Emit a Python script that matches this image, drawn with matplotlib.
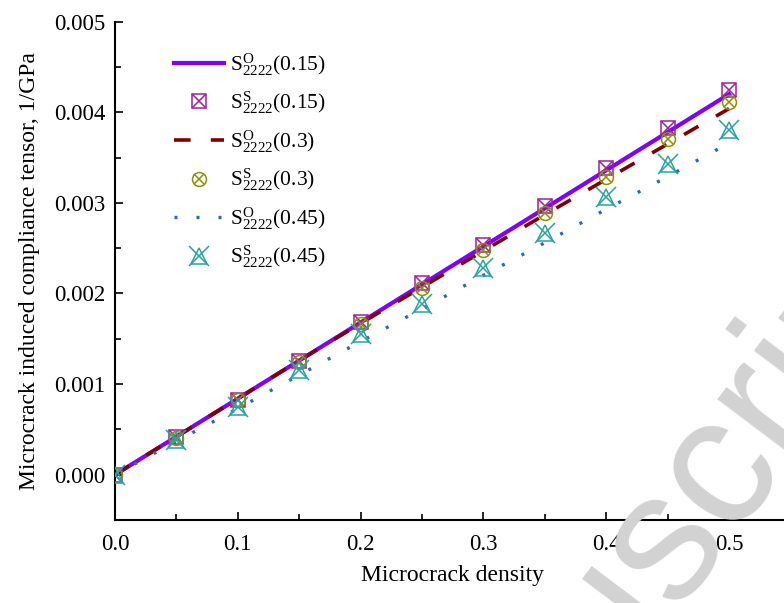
import numpy as np
import matplotlib
matplotlib.use("Agg")
import matplotlib.pyplot as plt
from matplotlib.ticker import MultipleLocator, FormatStrFormatter

plt.rcParams['font.family'] = ['Liberation Serif', 'DejaVu Serif']
plt.rcParams['mathtext.fontset'] = 'custom'
plt.rcParams['mathtext.rm'] = 'Liberation Serif'
plt.rcParams['mathtext.it'] = 'Liberation Serif:italic'

density = [0.0, 0.05, 0.10, 0.15, 0.20, 0.25, 0.30, 0.35, 0.40, 0.45, 0.50]

o_015 = [0.0, 0.00042, 0.00084, 0.00126, 0.00168, 0.00210, 0.00252, 0.00294, 0.00336, 0.00378, 0.00420]
s_015 = [0.0, 0.00042, 0.00083, 0.00126, 0.00169, 0.00212, 0.00254, 0.00297, 0.00339, 0.00383, 0.00425]
o_03 = [0.0, 0.00042, 0.00084, 0.00126, 0.00167, 0.00207, 0.00247, 0.00287, 0.00326, 0.00365, 0.00404]
s_03 = [0.0, 0.00041, 0.00082, 0.00124, 0.00166, 0.00206, 0.00248, 0.00289, 0.00329, 0.00371, 0.00411]
o_045 = [0.0, 0.00037, 0.00073, 0.00110, 0.00147, 0.00183, 0.00220, 0.00256, 0.00293, 0.00329, 0.00366]
s_045 = [0.0, 0.00038, 0.00075, 0.00116, 0.00155, 0.00188, 0.00228, 0.00267, 0.00306, 0.00343, 0.00380]

labels = [r'$\mathregular{S^{O}_{2222}}$(0.15)', r'$\mathregular{S^{S}_{2222}}$(0.15)',
          r'$\mathregular{S^{O}_{2222}}$(0.3)', r'$\mathregular{S^{S}_{2222}}$(0.3)',
          r'$\mathregular{S^{O}_{2222}}$(0.45)', r'$\mathregular{S^{S}_{2222}}$(0.45)']

c_line1 = '#8000ff'
c_sq = '#a0209f'
c_line2 = '#800000'
c_circ = '#8f8f00'
c_line3 = '#2f68b0'
c_tri = '#2aa3a3'

fig = plt.figure(figsize=(7.84, 6.03), dpi=100)
ax = fig.add_axes([115/784, 83/603, (0.55*1228)/784, (520-21.7)/603])

# watermark
fig.text(0.80, 0.035, 'Manuscript', fontsize=132, color='#d2d2d2', rotation=53,
         ha='center', va='center', zorder=0, family='Liberation Sans')

l1, = ax.plot(density, o_015, '-', color=c_line1, lw=3.0, zorder=3)
l2, = ax.plot(density, o_03, color=c_line2, lw=2.6, ls=(0, (4.6, 5.6)), zorder=3)
l3, = ax.plot(density, o_045, color=c_line3, lw=2.4, ls=(0, (0.9, 5.7)), zorder=3)

ms = 10
m1a, = ax.plot(density, s_015, ls='none', marker='s', ms=ms, mfc='none', mec=c_sq, mew=1.1, zorder=4)
m1b, = ax.plot(density, s_015, ls='none', marker='x', ms=ms, mec=c_sq, mew=1.1, zorder=4)
m2a, = ax.plot(density, s_03, ls='none', marker='o', ms=ms, mfc='none', mec=c_circ, mew=1.1, zorder=4)
m2b, = ax.plot(density, s_03, ls='none', marker='x', ms=ms*0.75, mec=c_circ, mew=1.1, zorder=4)
m3a, = ax.plot(density, s_045, ls='none', marker='^', ms=12, mfc='none', mec=c_tri, mew=1.1, zorder=4)
m3b, = ax.plot(density, s_045, ls='none', marker='x', ms=14, mec=c_tri, mew=1.1, zorder=4)

ax.set_xlim(0, 0.55)
ax.set_ylim(-0.0005, 0.005)
ax.xaxis.set_major_locator(MultipleLocator(0.1))
ax.xaxis.set_minor_locator(MultipleLocator(0.05))
ax.yaxis.set_major_locator(MultipleLocator(0.001))
ax.yaxis.set_minor_locator(MultipleLocator(0.0005))
ax.xaxis.set_major_formatter(FormatStrFormatter('%.1f'))
ax.yaxis.set_major_formatter(FormatStrFormatter('%.3f'))

for s in ['top', 'right']:
    ax.spines[s].set_visible(False)
for s in ['left', 'bottom']:
    ax.spines[s].set_linewidth(1.5)

ax.tick_params(which='major', direction='in', length=6, width=1.2, labelsize=16.5)
ax.tick_params(axis='y', which='major', pad=7)
ax.tick_params(axis='x', which='major', pad=10)
ax.tick_params(which='minor', direction='in', length=4, width=1.2)
ax.patch.set_alpha(0)

ax.set_xlabel('Microcrack density', fontsize=17, labelpad=7)
ax.set_ylabel('Microcrack induced compliance tensor, 1/GPa', fontsize=17, labelpad=10)

handles = [l1, (m1a, m1b), l2, (m2a, m2b), l3, (m3a, m3b)]
leg = ax.legend(handles, labels, loc='upper left', bbox_to_anchor=(174/784, 1 - 51/603),
                bbox_transform=fig.transFigure, frameon=False, fontsize=15.5,
                handlelength=2.3, handletextpad=0.3, labelspacing=0.55, borderpad=0,
                borderaxespad=0)

fig.savefig('out.png', dpi=100)
